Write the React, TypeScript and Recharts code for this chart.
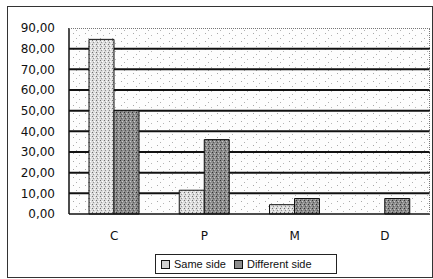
import { BarChart, Bar, XAxis, YAxis, CartesianGrid } from 'recharts';

const categories = ['C', 'P', 'M', 'D'];
const sameSide = [84.5, 11.5, 4.5, 0];
const differentSide = [50, 36, 7.5, 7.5];
const yTicks = [0, 10, 20, 30, 40, 50, 60, 70, 80, 90];
const gridValues = [10, 20, 30, 40, 50, 60, 70, 80];

const data = categories.map((c, i) => ({ cat: c, same: sameSide[i], diff: differentSide[i] }));

const font = 'Liberation Sans, Arial, sans-serif';
const tickFont = 'DejaVu Sans, sans-serif';

export default function App() {
    return (
        <div style={{ position: 'absolute', left: 0, top: 0, width: 433, height: 279, background: '#fff', fontFamily: font }}>
            <div style={{ position: 'absolute', left: 7, top: 6, width: 424, height: 270, border: '1px solid #333' }} />
            <BarChart
                width={433}
                height={279}
                data={data}
                margin={{ top: 28, right: 3, bottom: 35, left: 0 }}
                barSize={25}
                barGap={0}
                style={{ position: 'absolute', left: 0, top: 0 }}
            >
                <defs>
                    <pattern id="bgDots" width="12" height="8" patternUnits="userSpaceOnUse">
                        <rect width="12" height="8" fill="#fdfdfd" />
                        <rect x="1" y="1" width="1" height="1" fill="#a8a8a8" />
                        <rect x="7" y="3" width="1" height="1" fill="#b8b8b8" />
                        <rect x="4" y="6" width="1" height="1" fill="#b0b0b0" />
                    </pattern>
                    <pattern id="lightFill" width="4" height="4" patternUnits="userSpaceOnUse">
                        <rect width="4" height="4" fill="#dcdcdc" />
                        <rect x="0" y="0" width="1" height="1" fill="#707070" />
                        <rect x="2" y="1" width="1" height="1" fill="#ffffff" />
                        <rect x="1" y="2" width="1" height="1" fill="#909090" />
                        <rect x="3" y="3" width="1" height="1" fill="#f4f4f4" />
                    </pattern>
                    <pattern id="darkFill" width="4" height="4" patternUnits="userSpaceOnUse">
                        <rect width="4" height="4" fill="#8c8c8c" />
                        <rect x="0" y="0" width="1" height="1" fill="#333333" />
                        <rect x="2" y="1" width="1" height="1" fill="#c8c8c8" />
                        <rect x="1" y="2" width="1" height="1" fill="#555555" />
                        <rect x="3" y="3" width="1" height="1" fill="#b4b4b4" />
                    </pattern>
                </defs>
                <CartesianGrid
                    vertical={false}
                    horizontalValues={gridValues}
                    stroke="#111"
                    strokeWidth={2}
                    fill="url(#bgDots)"
                    fillOpacity={1}
                />
                <XAxis
                    dataKey="cat"
                    height={30}
                    tickLine={false}
                    axisLine={{ stroke: '#111', strokeWidth: 1.5 }}
                    tickMargin={11}
                    tick={{ fontSize: 12, fill: '#111', fontFamily: tickFont }}
                />
                <YAxis
                    width={69}
                    domain={[0, 90]}
                    ticks={yTicks}
                    interval={0}
                    tickLine={false}
                    axisLine={{ stroke: '#111', strokeWidth: 1.5 }}
                    tickMargin={8}
                    tickFormatter={(v: number) => v.toFixed(2).replace('.', ',')}
                    tick={{ fontSize: 12, fill: '#111', fontFamily: tickFont }}
                />
                <Bar dataKey="same" fill="url(#lightFill)" stroke="#111" strokeWidth={1} isAnimationActive={false} />
                <Bar dataKey="diff" fill="url(#darkFill)" stroke="#111" strokeWidth={1} isAnimationActive={false} />
            </BarChart>
            <div style={{ position: 'absolute', left: 69, top: 28, width: 361, height: 186, borderTop: '1px dotted #777', borderRight: '1px dotted #777', boxSizing: 'border-box', pointerEvents: 'none' }} />
            <div
                style={{
                    position: 'absolute', left: 155, top: 254, width: 180, height: 18, border: '1px solid #222',
                    background: '#fff', display: 'flex', alignItems: 'center', fontSize: 11, color: '#111', whiteSpace: 'nowrap',
                }}
            >
                <span style={{ display: 'inline-block', width: 7, height: 7, border: '1px solid #111', background: '#d0d0d0', marginLeft: 5, marginRight: 4 }} />
                <span>Same side</span>
                <span style={{ display: 'inline-block', width: 7, height: 7, border: '1px solid #111', background: '#8c8c8c', marginLeft: 8, marginRight: 4 }} />
                <span>Different side</span>
            </div>
        </div>
    );
}
